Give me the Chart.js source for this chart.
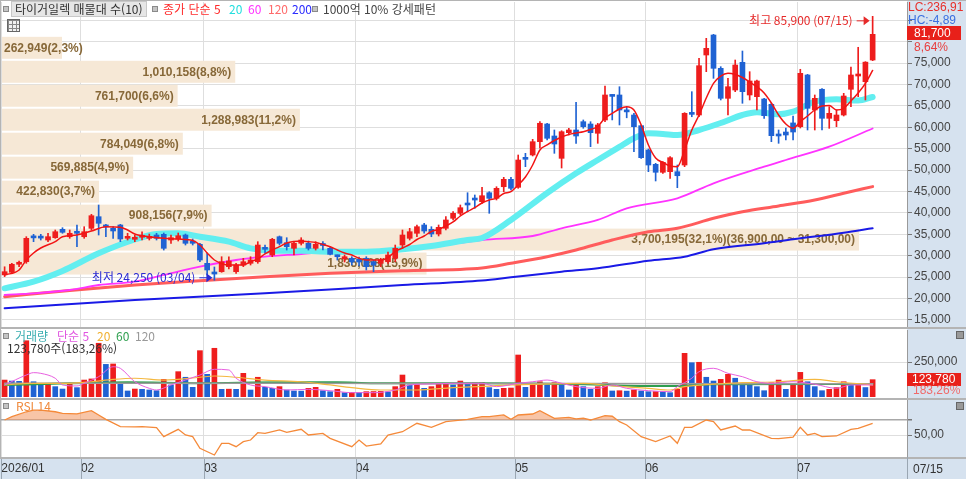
<!DOCTYPE html>
<html lang="ko">
<head>
<meta charset="utf-8">
<title>타이거일렉 일봉</title>
<script src="https://cdn.jsdelivr.net/npm/chart.js@4.4.1/dist/chart.umd.min.js"></script>
<style>
  html, body { margin: 0; padding: 0; background: #fff; }
  #wrap { position: relative; width: 966px; height: 479px; overflow: hidden; background: #fff;
          font-family: "Noto Sans CJK KR", "Noto Sans", sans-serif; font-size: 12px; }
  #wrap canvas { position: absolute; left: 0; }
  .t { position: absolute; white-space: nowrap; line-height: 14px; }
  .n { font-family: "Liberation Sans Narrow", "Liberation Sans", sans-serif; }
  .sq { position: absolute; width: 4px; height: 4px; border: 1px solid #8a8a8a; background: #c4c4c4; }
  .ic { position: absolute; width: 6px; height: 6px; border: 1px solid #666; background: #999; }
</style>
</head>
<body>
<div id="wrap">
  <canvas id="cPrice" width="966" height="327" style="top:0"></canvas>
  <canvas id="cVol" width="966" height="71" style="top:327px"></canvas>
  <canvas id="cRsi" width="966" height="81" style="top:398px"></canvas>

  <div class="sq" style="left:3px;top:6px"></div>
  <div class="t" style="left:11px;top:1px;width:134px;height:14px;background:#e6e6e6;border:1px solid #c8c8c8"></div>
  <div class="t" style="left:15px;top:2px;color:#333">타이거일렉 매물대 수(10)</div>
  <div class="sq" style="left:152px;top:6px"></div>
  <div class="t" style="left:163px;top:2px;color:#ff2a2a">종가 단순 5</div>
  <div class="t" style="left:229px;top:2px;color:#20dede">20</div>
  <div class="t" style="left:248px;top:2px;color:#ff33ff">60</div>
  <div class="t" style="left:268px;top:2px;color:#ff6a6a">120</div>
  <div class="t" style="left:292px;top:2px;color:#2a2aff">200</div>
  <div class="sq" style="left:312px;top:6px"></div>
  <div class="t" style="left:323px;top:2px;color:#444">1000억 10% 강세패턴</div>
  <div class="t" style="left:7px;top:19px;width:11px;height:11px;border:1px solid #666;background-color:#f2f2f2;
       background-image:linear-gradient(to right,#888 1px,transparent 1px),linear-gradient(to bottom,#888 1px,transparent 1px);
       background-size:4px 4px"></div>

  <div class="t n" style="left:908px;top:0;color:#e8302a">LC:236,91</div>
  <div class="t n" style="left:908px;top:13px;color:#3a6fe0">HC:-4,89</div>
  <div class="t n" id="lastBox" style="left:907px;top:26px;width:54px;height:14px;background:#e8201a;color:#fff;padding-left:7px;box-sizing:border-box"></div>
  <div class="t n" id="lastChg" style="left:914px;top:40px;color:#e84040"></div>

  <div class="sq" style="left:3px;top:333px"></div>
  <div class="t" style="left:15px;top:329px;color:#3aaeb0">거래량</div>
  <div class="t" style="left:57px;top:329px;color:#e055e0">단순 5</div>
  <div class="t" style="left:97px;top:329px;color:#f0b030">20</div>
  <div class="t" style="left:116px;top:329px;color:#30a050">60</div>
  <div class="t" style="left:135px;top:329px;color:#999">120</div>
  <div class="t" id="volText" style="left:7px;top:341px;color:#333"></div>
  <div class="t n" id="volBox" style="left:907px;top:373px;width:54px;height:13px;background:#e8201a;color:#fff;padding-left:5px;box-sizing:border-box;line-height:13px"></div>
  <div class="t n" id="volChg" style="left:913px;top:383px;color:#f06a6a"></div>
  <div class="ic" style="left:956px;top:331px"></div>

  <div class="sq" style="left:3px;top:403px"></div>
  <div class="t" style="left:16px;top:399px;color:#f08a3c">RSI 14</div>
  <div class="ic" style="left:956px;top:402px"></div>

  <div class="t n" id="lastDateTxt" style="left:913px;top:462px;color:#333"></div>
</div>

<script>
// ---- data (2026/01/16 .. 2026/07/15, daily) ----
const monthStart = [0, 11, 28, 49, 71, 89, 110];
const monthLabels = ['2026/01', '02', '03', '04', '05', '06', '07'];
const lastDate = '07/15';
const lowDate = '03/04';

const opens = [25500,26100,27980,28580,34200,34200,33650,34190,36150,34420,
  35590,34420,36380,39100,36900,36380,37160,34050,33820,34290,
  34050,34820,34980,33650,33890,34820,33420,32650,28210,26180,
  26250,27420,26250,27810,28210,28580,31710,30150,34420,33020,
  31710,32880,32880,31710,32650,31710,29850,29230,29380,29220,
  29380,28580,28210,28580,29380,32480,34050,35220,37160,36150,
  35050,36380,38720,39890,42220,43390,42600,44700,43390,46100,
  47830,45960,52970,53510,56620,60750,57950,52730,58720,59350,
  61290,60750,58580,61690,67450,67530,64050,62850,60360,54680,
  51330,49470,49610,49610,51170,63350,62850,76870,81540,73760,
  66750,68690,75160,67530,67130,66590,65350,58420,58880,61000,
  60120,72200,64020,68860,62080,61520,62850,68860,71960,70630,
  75700];
const highs = [27400,28200,28750,34430,34980,34980,35220,35990,36530,35990,
  37160,36760,39650,41830,37320,36760,37320,35220,34820,35590,
  35050,35220,35290,34820,35290,35050,33890,32880,30610,27350,
  29750,29750,28210,29380,29750,33260,32480,34050,34590,34190,
  33260,34190,33420,33260,33260,32090,30150,30150,29750,29680,
  29750,28980,29380,30850,32480,35990,36380,37160,37550,36760,
  37160,39100,40270,41830,44700,44170,45960,44940,46100,48300,
  48300,53510,53900,57170,61290,60920,59350,59180,59750,65820,
  61690,61290,60900,69630,67600,69460,64700,63250,60520,54910,
  51570,51950,53120,51170,63400,68300,76100,80770,81700,74140,
  71420,75700,77800,72970,71030,66750,65590,59350,59820,62620,
  73530,72360,67530,69000,64790,64020,67920,74060,78670,75310,
  85900];
const lows = [25100,25850,27420,28210,33260,33650,33260,34050,35220,34050,
  32090,34050,35990,34820,34420,34050,33260,33650,33260,33650,
  33650,33650,31310,32880,33420,32480,32480,28580,25480,24250,
  26110,26880,25870,27420,27810,28210,30550,29750,32480,31310,
  30150,32480,31310,31310,31310,30150,28980,28510,27810,27580,
  26650,26250,27420,28210,28580,31710,33650,34420,35220,34420,
  34590,35990,38330,39490,40270,41060,42220,39890,43000,44940,
  45330,45730,50780,53280,55080,57010,53900,50470,58180,56240,
  59750,55450,56240,61290,61700,60520,62200,54280,52730,49610,
  47440,49230,48060,45870,50780,62450,62450,72970,71420,66360,
  62850,68300,65590,66360,64020,62080,56620,56240,57010,57010,
  59820,59350,59350,59350,59740,60120,62620,64790,67130,66360,
  75540];
const closes = [26250,27980,28210,34050,34150,34100,34430,35590,35450,35220,
  35220,35590,39330,37550,36700,35760,33890,34420,34290,34660,
  34420,34050,31710,34190,34660,32880,32880,28980,26650,25710,
  28580,28750,27810,28580,28980,32480,31480,33820,32880,32090,
  32880,33650,31710,32650,32370,30310,29750,29750,28510,28510,
  27420,27810,28980,30150,31710,34820,35590,36760,35750,35050,
  36620,38330,39890,41200,41830,42990,44000,43390,45730,47830,
  45730,52340,52500,56620,60920,57410,56080,58950,59350,57950,
  60120,58720,60520,67530,67200,64020,63580,60120,52880,51170,
  49470,51800,52880,48670,63250,63000,74370,78430,73760,66750,
  69460,74530,68300,70800,70800,62690,58020,57950,58180,58880,
  72590,64420,66750,62080,63250,62850,67290,72200,72430,75200,
  81700];
const volumes = [121000,114000,112000,402000,109000,93000,95000,74000,57000,98000,
  67000,121000,129000,384000,233000,236000,98000,43000,57000,55000,
  50000,45000,126000,86000,181000,141000,69000,331000,162000,348000,
  55000,56000,55000,169000,50000,141000,69000,62000,74000,50000,
  43000,42000,62000,69000,45000,38000,55000,31000,32000,31000,
  38000,39000,40000,36000,74000,157000,86000,88000,62000,74000,
  90000,92000,86000,114000,98000,100000,102000,67000,55000,62000,
  64000,300000,69000,93000,109000,86000,102000,86000,50000,86000,
  74000,55000,74000,102000,43000,45000,42000,50000,43000,38000,
  39000,38000,31000,55000,312000,245000,248000,141000,114000,126000,
  162000,134000,90000,89000,74000,45000,102000,121000,55000,86000,
  176000,109000,74000,45000,55000,67000,109000,90000,92000,67544,
  123780];

// moving averages as drawn (index, value)
const ma5 = [[0,25480],[2,26650],[3,29000],[4,30620],[5,31790],[7,33260],[8,34420],[10,34820],[12,35750],[14,36760],
  [16,36620],[17,35990],[18,35050],[20,34420],[22,34050],[24,33890],[26,33540],[27,32490],[28,30620],[29,28980],
  [30,28170],[31,27810],[33,27810],[34,28590],[35,29220],[36,30390],[37,31320],[38,32090],[39,32950],[40,33300],
  [41,33420],[42,33260],[43,33070],[44,32600],[45,32090],[46,31320],[47,30620],[48,30150],[49,29380],[50,28980],
  [52,28980],[53,29560],[54,30970],[55,31790],[56,32600],[57,33770],[58,34590],[59,35640],[60,36110],[61,36920],
  [62,37860],[63,39260],[64,40310],[65,41240],[66,42300],[67,43000],[68,43390],[69,44520],[70,44940],[71,46500],
  [72,48370],[73,51170],[74,54680],[75,55850],[76,56900],[77,57710],[78,58300],[79,58650],[80,58950],[81,59470],
  [82,60170],[83,62150],[84,63250],[85,64260],[86,64790],[87,64020],[88,60520],[89,55850],[90,52810],[91,51760],
  [92,50940],[93,50780],[94,54680],[95,59350],[96,62850],[97,66820],[98,70260],[99,71960],[100,72590],[101,72310],
  [102,71610],[103,70560],[104,69460],[105,67990],[106,65660],[107,62850],[108,60750],[109,59750],[110,61330],
  [111,62620],[112,64020],[113,64960],[114,65070],[115,64020],[116,64420],[117,66120],[118,67990],[119,70260],[120,73250]];
const ma20 = [[0,22370],[4,23910],[8,26410],[13,30550],[18,33770],[21,35050],[24,35220],[27,34420],[31,33260],[34,31710],
  [37,31150],[41,31150],[45,30920],[50,30920],[55,31480],[59,32250],[64,33650],[66,34120],[70,38330],[75,44630],
  [79,49230],[82,52340],[85,55400],[87,57410],[89,58580],[91,58420],[93,58180],[96,59350],[99,60980],[102,62850],
  [104,63480],[107,63020],[109,63630],[112,65960],[115,66520],[118,66240],[120,67060]];
const ma60 = [[0,20810],[4,21200],[9,21970],[13,23140],[18,23910],[22,25480],[27,27420],[32,28980],[36,29750],[41,30380],
  [45,30920],[50,31150],[55,31480],[59,32090],[66,33650],[73,34590],[77,36390],[82,38330],[86,41060],[93,43390],
  [98,46900],[105,50780],[108,52340],[114,55450],[120,59700]];
const ma120 = [[0,20410],[9,21860],[18,23140],[27,24150],[36,25080],[45,25870],[55,26480],[66,27110],[70,28210],[75,29750],
  [79,31320],[84,33650],[89,35590],[93,36390],[98,38720],[102,40260],[107,41600],[112,43000],[116,44560],[120,46130]];
const ma200 = [[0,17700],[18,19640],[36,21200],[55,23140],[66,24190],[70,24940],[77,26250],[82,27040],[89,28820],[94,29750],
  [98,31480],[105,32880],[109,33820],[116,35360],[120,36390]];

const vma5 = [[0,86000],[3,157000],[4,174000],[5,169000],[7,134000],[8,86000],[10,79000],[11,98000],[13,145000],[15,216000],
  [16,205000],[18,109000],[20,62000],[21,50000],[23,86000],[25,121000],[27,157000],[29,198000],[31,193000],[32,134000],
  [34,86000],[36,74000],[39,50000],[42,55000],[45,45000],[48,31000],[51,31000],[54,50000],[56,86000],[59,93000],
  [62,98000],[66,98000],[68,74000],[71,98000],[73,109000],[75,121000],[77,98000],[79,74000],[82,62000],[84,86000],
  [86,62000],[89,45000],[92,38000],[93,74000],[95,134000],[96,181000],[98,205000],[100,169000],[102,145000],[104,109000],
  [106,98000],[109,109000],[112,91000],[115,62000],[117,86000],[120,86000]];
const vma20 = [[0,86000],[4,98000],[9,98000],[12,109000],[15,126000],[18,134000],[22,121000],[27,141000],[29,150000],[32,141000],
  [36,121000],[41,109000],[45,86000],[48,67000],[52,50000],[57,50000],[62,67000],[66,76000],[70,86000],[75,93000],
  [80,98000],[84,79000],[89,62000],[92,50000],[94,74000],[98,91000],[102,102000],[107,109000],[112,126000],[115,109000],[120,86000]];
const vma60 = [[0,86000],[9,98000],[17,105000],[27,98000],[38,105000],[46,105000],[51,98000],[66,98000],[80,91000],[88,79000],
  [93,79000],[98,91000],[120,93000]];
const vma120 = [[0,99000],[40,98000],[80,96000],[120,95000]];

const rsi = [[0,70],[1,74.4],[3,81],[4,83.3],[5,83.3],[7,81],[8,78.9],[10,78.2],[12,82.4],[13,76.7],[14,70.9],[16,61.1],
  [18,60.9],[19,61.1],[21,59.8],[22,47.8],[24,57.6],[25,50],[26,47.8],[27,32.2],[29,23.3],[30,38.9],[31,38.9],[32,34.4],
  [33,41.1],[34,43.3],[35,53.1],[36,52.2],[38,56.7],[39,53.5],[41,57.6],[42,50],[44,52.2],[45,45.6],[48,34.4],[49,43.3],
  [50,35.3],[52,38],[53,50],[55,54.4],[57,65.6],[59,60.2],[61,67.8],[64,70.9],[66,74.4],[67,74.4],[69,76.7],[70,70.9],
  [71,76.7],[73,78],[74,82.4],[76,72.2],[78,73.6],[79,71.4],[80,72.5],[81,70],[83,75.8],[84,75],[85,67.8],[86,63.3],
  [88,47.8],[90,41.1],[92,48.7],[93,38.9],[94,60.2],[95,60.2],[97,70],[98,68],[99,56.7],[101,62],[102,56.7],[103,56.7],
  [106,45.6],[107,45.1],[109,47],[110,60.2],[111,50],[112,52.2],[113,47.8],[115,48.7],[117,57.6],[118,58.9],[120,65.6]];

// volume profile (매물대 10)
const profileEdges = [25700, 31300, 36900, 42500, 48100, 53700, 59300, 64900, 70500, 76100, 81700];
const profileVol = [1835068, 3700195, 908156, 422830, 569885, 784049, 1288983, 761700, 1010158, 262949];
const profilePct = [15.9, 32.1, 7.9, 3.7, 4.9, 6.8, 11.2, 6.6, 8.8, 2.3];

const priceTicks = [15000, 20000, 25000, 30000, 35000, 40000, 45000, 50000, 55000, 60000, 65000, 70000, 75000, 80000, 85000];
const volTicks = [250000];
const rsiTicks = [50, 70];

// ---- drawing ----
const FONT = '"Noto Sans CJK KR", "Noto Sans", sans-serif';
const NUMFONT = '"Liberation Sans Narrow", "Liberation Sans", sans-serif';
const UP = '#ee1d1d', DOWN = '#1f62d3';
const AXIS_BG = '#d6e2ef';
const GRID = '#dedede';
Chart.defaults.font.family = FONT;
Chart.defaults.font.size = 12;

const fmt = v => Math.round(v).toLocaleString('en-US');
const fmt2 = v => fmt(v) + ',00';
const pts = a => a.map(([x, y]) => ({ x, y }));
const isUp = i => closes[i] >= opens[i];
const idx = closes.map((_, i) => i);
const last = closes.length - 1;

document.getElementById('lastBox').textContent = fmt(closes[last]);
document.getElementById('lastChg').textContent = ((closes[last] / closes[last - 1] - 1) * 100).toFixed(2).replace('.', ',') + '%';
const volPct = (volumes[last] / volumes[last - 1] * 100).toFixed(2).replace('.', ',');
document.getElementById('volText').textContent = fmt(volumes[last]) + '주(' + volPct + '%)';
document.getElementById('volBox').textContent = fmt(volumes[last]);
document.getElementById('volChg').textContent = volPct + '%';
document.getElementById('lastDateTxt').textContent = lastDate;

function xScale(showLabels) {
  return {
    type: 'linear', min: -0.5, max: 124.75, offset: false,
    grid: { color: GRID, drawTicks: false, offset: false },
    border: { display: false },
    ticks: {
      display: showLabels, align: 'start', padding: 4, color: '#333', autoSkip: false, maxRotation: 0,
      font: { family: NUMFONT, size: 12 },
      callback: (v, i) => monthLabels[i]
    },
    afterBuildTicks: s => { s.ticks = monthStart.map(i => ({ value: i - 0.45 })); },
    afterFit: s => { s.height = showLabels ? 22 : 0; s.paddingLeft = 0; s.paddingRight = 0; }
  };
}

function yScale(min, max, ticks, label, gridColor, gridWidth) {
  return {
    position: 'right', min, max,
    grid: { color: gridColor || GRID, lineWidth: gridWidth || 1, tickLength: 5, tickColor: '#777' },
    border: { display: true, color: '#9a9a9a' },
    ticks: { color: '#444', padding: 2, font: { family: NUMFONT, size: 12 }, callback: label },
    afterBuildTicks: s => { s.ticks = ticks.map(v => ({ value: v })); },
    afterFit: s => { s.width = 59; s.paddingTop = 0; s.paddingBottom = 0; }
  };
}

function panelPlugin(kind) {
  return {
    id: 'panel_' + kind,
    beforeDraw(chart) {
      const { ctx, chartArea: a, width, height } = chart;
      ctx.save();
      ctx.fillStyle = '#fff';
      ctx.fillRect(0, 0, width, height);
      ctx.fillStyle = AXIS_BG;
      ctx.fillRect(a.right, 0, width - a.right, height);
      if (kind === 'rsi') ctx.fillRect(0, a.bottom + 2, a.right, height - a.bottom - 2);
      ctx.fillStyle = '#b4b4b4';
      ctx.fillRect(0, 0, width, kind === 'price' ? 1 : 2);
      ctx.fillRect(0, 0, 1, kind === 'rsi' ? a.bottom + 2 : height);
      if (kind === 'rsi') ctx.fillRect(0, a.bottom, width, 2);
      ctx.restore();
    },
    afterDraw(chart) {
      if (kind !== 'rsi') return;
      const { ctx, chartArea: a, height, scales: { x } } = chart;
      ctx.save();
      ctx.fillStyle = '#9aa6b2';
      x.ticks.forEach(t => ctx.fillRect(Math.round(x.getPixelForValue(t.value)), a.bottom + 2, 1, height - a.bottom - 2));
      ctx.fillRect(a.right, a.bottom, 1, height - a.bottom);
      ctx.restore();
    }
  };
}

const profilePlugin = {
  id: 'profile',
  beforeDatasetsDraw(chart) {
    const { ctx, chartArea: a, scales: { y, xv } } = chart;
    const maxVol = Math.max(...profileVol);
    ctx.save();
    ctx.beginPath();
    ctx.rect(a.left, a.top, a.right - a.left, a.bottom - a.top);
    ctx.clip();
    ctx.font = 'bold 12px "Liberation Sans", sans-serif';
    ctx.textBaseline = 'middle';
    profileVol.forEach((vol, k) => {
      const lo = profileEdges[k], hi = profileEdges[k + 1];
      const top = y.getPixelForValue(hi) + 2.5, bot = y.getPixelForValue(lo) + 0.5;
      const x0 = a.left + 1, x1 = xv.getPixelForValue(vol);
      ctx.fillStyle = '#f6e8d6';
      ctx.fillRect(x0, top, x1 - x0, bot - top);
      let label = fmt(vol) + '(' + profilePct[k].toFixed(1).replace('.', ',') + '%)';
      if (vol === maxVol) label += '(' + fmt2(hi) + ' ~ ' + fmt2(lo) + ')';
      const w = ctx.measureText(label).width;
      ctx.fillStyle = '#876838';
      ctx.fillText(label, Math.max(x0 + 2, x1 - 4 - w), (top + bot) / 2 + 0.5);
    });
    ctx.restore();
  }
};

function mark(ctx, tipX, yy, text, color) {
  ctx.save();
  ctx.strokeStyle = color;
  ctx.fillStyle = color;
  ctx.lineWidth = 1;
  ctx.beginPath();
  ctx.moveTo(tipX - 13, yy + 0.5);
  ctx.lineTo(tipX - 4, yy + 0.5);
  ctx.stroke();
  ctx.beginPath();
  ctx.moveTo(tipX, yy + 0.5);
  ctx.lineTo(tipX - 6, yy - 4);
  ctx.lineTo(tipX - 6, yy + 5);
  ctx.closePath();
  ctx.fill();
  ctx.font = '12px ' + FONT;
  ctx.textAlign = 'right';
  ctx.textBaseline = 'middle';
  ctx.fillText(text, tipX - 17, yy);
  ctx.restore();
}

const markerPlugin = {
  id: 'markers',
  afterDatasetsDraw(chart) {
    const { ctx, scales: { x, y } } = chart;
    const hi = Math.max(...highs), lo = Math.min(...lows);
    const hiI = highs.indexOf(hi), loI = lows.indexOf(lo);
    mark(ctx, x.getPixelForValue(hiI) - 3, y.getPixelForValue(hi) + 4, '최고 ' + fmt(hi) + ' (' + lastDate + ')', '#e62a2a');
    mark(ctx, x.getPixelForValue(loI) - 2, y.getPixelForValue(lo) - 3, '최저 ' + fmt(lo) + ' (' + lowDate + ')', '#2b2bd3');
  }
};

const common = {
  responsive: false,
  animation: false,
  events: [],
  plugins: { legend: { display: false }, tooltip: { enabled: false } }
};

function maLine(data, color, width, order) {
  return {
    type: 'line', data: pts(data), borderColor: color, borderWidth: width,
    pointRadius: 0, fill: false, cubicInterpolationMode: 'monotone',
    borderCapStyle: 'round', borderJoinStyle: 'round', order
  };
}

// price panel
new Chart(document.getElementById('cPrice'), {
  type: 'bar',
  data: {
    datasets: [
      maLine(ma5, '#f21414', 1.5, 0),
      {
        type: 'bar', data: idx.map(i => ({ x: i, y: [opens[i], closes[i]] })),
        backgroundColor: c => isUp(c.dataIndex) ? UP : DOWN,
        barThickness: 5, minBarLength: 2, grouped: false, borderWidth: 0, order: 1
      },
      {
        type: 'bar', data: idx.map(i => ({ x: i, y: [lows[i], highs[i]] })),
        backgroundColor: c => isUp(c.dataIndex) ? UP : DOWN,
        barThickness: 1, grouped: false, borderWidth: 0, order: 2
      },
      maLine(ma20, '#62eef0', 6, 3),
      maLine(ma60, '#ff33ff', 1.8, 4),
      maLine(ma120, '#ff5c5c', 3, 5),
      maLine(ma200, '#1a1ae6', 2, 6)
    ]
  },
  options: Object.assign({}, common, {
    layout: { padding: { left: 1, top: 2, right: 0, bottom: 0 } },
    scales: {
      x: xScale(false),
      xv: { type: 'linear', display: false, position: 'top', min: 0, max: 3907000,
            offset: false, grid: { offset: false }, afterFit: s => { s.paddingLeft = 0; s.paddingRight = 0; } },
      y: yScale(13330, 89250, priceTicks, v => v > 76000 ? '' : fmt(v))
    }
  }),
  plugins: [panelPlugin('price'), profilePlugin, markerPlugin]
});

// volume panel
new Chart(document.getElementById('cVol'), {
  type: 'bar',
  data: {
    datasets: [
      maLine(vma5, '#e860e0', 1, 1),
      maLine(vma20, '#f4b840', 1.2, 2),
      maLine(vma120, '#9a9a9a', 1.5, 3),
      maLine(vma60, '#2f9e4f', 2, 4),
      {
        type: 'bar', data: idx.map(i => ({ x: i, y: volumes[i] })),
        backgroundColor: c => (c.dataIndex === 0 || volumes[c.dataIndex] >= volumes[c.dataIndex - 1]) ? UP : DOWN,
        barThickness: 5, grouped: false, borderWidth: 0, order: 10
      }
    ]
  },
  options: Object.assign({}, common, {
    layout: { padding: { left: 1, top: 3, right: 0, bottom: 1 } },
    scales: {
      x: xScale(false),
      y: yScale(0, 478600, volTicks, v => fmt(v))
    }
  }),
  plugins: [panelPlugin('vol')]
});

// RSI panel
new Chart(document.getElementById('cRsi'), {
  type: 'line',
  data: {
    datasets: [{
      data: pts(rsi), borderColor: '#f58a3a', borderWidth: 1.3, pointRadius: 0,
      fill: { target: { value: 70 }, above: 'rgba(244,158,108,0.6)', below: 'rgba(0,0,0,0)' }
    }]
  },
  options: Object.assign({}, common, {
    layout: { padding: { left: 1, top: 2, right: 0, bottom: 0 } },
    scales: {
      x: xScale(true),
      y: yScale(20.67, 96.67, rsiTicks, v => v === 50 ? v.toFixed(2).replace('.', ',') : '',
        c => c.tick && c.tick.value === 70 ? '#a8a8a8' : GRID,
        c => c.tick && c.tick.value === 70 ? 1.5 : 1)
    }
  }),
  plugins: [panelPlugin('rsi')]
});
</script>
</body>
</html>
